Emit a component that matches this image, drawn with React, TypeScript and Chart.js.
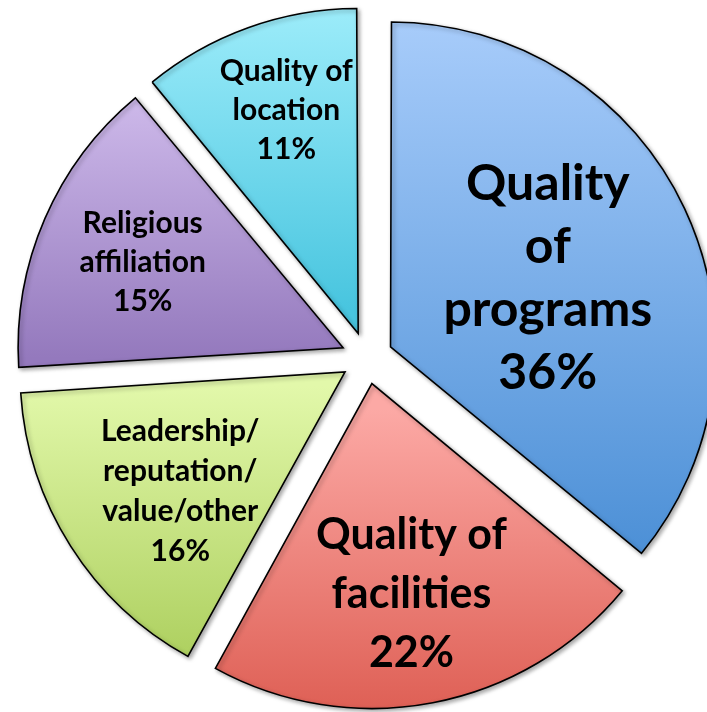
import React, { useEffect, useRef } from "react";
import { Chart, registerables } from "chart.js";

Chart.register(...registerables);

// ---- data ----
const categories = [
  "Quality of programs",
  "Quality of facilities",
  "Leadership/reputation/value/other",
  "Religious affiliation",
  "Quality of location",
];
const percentValues = [36, 22, 16, 15, 11];
const labelLines = [
  ["Quality", "of", "programs", "36%"],
  ["Quality of", "facilities", "22%"],
  ["Leadership/", "reputation/", "value/other", "16%"],
  ["Religious", "affiliation", "15%"],
  ["Quality of", "location", "11%"],
];
const gradientTop = ["#a9cdfb", "#fca9a5", "#e2f8aa", "#d0bcec", "#a3effc"];
const gradientBottom = ["#4e91d7", "#dc5a4f", "#abce5c", "#9479bd", "#48c5df"];

// ---- styling / layout ----
const RADIUS = 325;
const OFFSET = 104; // chart.js divides by 4 -> 26px explosion
const labelFontSize = [50, 43, 30, 30, 30];
const labelLineHeight = [63, 59, 40, 39, 39];
const labelRadiusFrac = [0.535, 0.65, 0.615, 0.672, 0.726];
const labelNudgeX = [0, 0, 4, 0, 8];
const labelNudgeY = [5, 3, 12, 1, -1];
const FONT = "Lato, 'Open Sans', sans-serif";

function sliceAngles(i: number) {
  const total = percentValues.reduce((a, b) => a + b, 0);
  let before = 0;
  for (let k = 0; k < i; k++) before += percentValues[k];
  const s = -Math.PI / 2 + (before / total) * Math.PI * 2;
  const e = s + (percentValues[i] / total) * Math.PI * 2;
  return { s, e };
}

function gradientFor(context: any) {
  const chart = context.chart;
  const i = context.dataIndex;
  const area = chart.chartArea;
  if (!area || i === undefined) return gradientBottom[i ?? 0];
  const cy = (area.top + area.bottom) / 2;
  const { s, e } = sliceAngles(i);
  const mid = (s + e) / 2;
  const off = OFFSET / 4;
  const ay = cy + Math.sin(mid) * off;
  const ys = [ay, ay + RADIUS * Math.sin(s), ay + RADIUS * Math.sin(e)];
  for (const a of [-Math.PI / 2, Math.PI / 2, (3 * Math.PI) / 2]) {
    if (a >= s && a <= e) ys.push(ay + RADIUS * Math.sin(a));
  }
  const minY = Math.min(...ys);
  const maxY = Math.max(...ys);
  const g = chart.ctx.createLinearGradient(0, minY, 0, maxY);
  g.addColorStop(0, gradientTop[i]);
  g.addColorStop(1, gradientBottom[i]);
  return g;
}

const radiusFixPlugin = {
  id: "radiusFix",
  afterDatasetUpdate(chart: any, args: any) {
    const meta = args.meta;
    meta.data.forEach((arc: any) => {
      const circ = arc.circumference;
      const off = OFFSET / 4;
      const fix = 1 - Math.sin(Math.min(Math.PI, circ || 0));
      arc.outerRadius = RADIUS - off * fix;
    });
  },
};

const shadowAndLabelsPlugin = {
  id: "shadowLabels",
  beforeDatasetsDraw(chart: any) {
    const ctx = chart.ctx;
    ctx.save();
    ctx.shadowColor = "rgba(0,0,0,0.35)";
    ctx.shadowBlur = 4;
    ctx.shadowOffsetX = 2;
    ctx.shadowOffsetY = 2;
  },
  afterDatasetsDraw(chart: any) {
    const ctx = chart.ctx;
    ctx.restore();
    const meta = chart.getDatasetMeta(0);
    ctx.save();
    ctx.fillStyle = "#000";
    ctx.textAlign = "center";
    ctx.textBaseline = "middle";
    meta.data.forEach((arc: any, i: number) => {
      const mid = (arc.startAngle + arc.endAngle) / 2;
      const off = OFFSET / 4;
      const ax = arc.x + Math.cos(mid) * off;
      const ay = arc.y + Math.sin(mid) * off;
      const r = RADIUS * labelRadiusFrac[i];
      const lx = ax + Math.cos(mid) * r + labelNudgeX[i];
      const ly = ay + Math.sin(mid) * r + labelNudgeY[i];
      const lines = labelLines[i];
      const lh = labelLineHeight[i];
      ctx.font = `bold ${labelFontSize[i]}px ${FONT}`;
      const startY = ly - ((lines.length - 1) * lh) / 2;
      lines.forEach((t, k) => ctx.fillText(t, lx, startY + k * lh));
    });
    ctx.restore();
  },
};

export default function App() {
  const canvasRef = useRef<HTMLCanvasElement | null>(null);

  useEffect(() => {
    if (!canvasRef.current) return;
    const chart = new Chart(canvasRef.current, {
      type: "pie",
      data: {
        labels: categories,
        datasets: [
          {
            data: percentValues,
            backgroundColor: gradientFor,
            borderColor: "#000",
            borderWidth: 1.6,
            borderJoinStyle: "miter",
            offset: OFFSET,
            radius: RADIUS,
          } as any,
        ],
      },
      options: {
        responsive: false,
        animation: false,
        events: [],
        layout: { padding: { left: 27, top: 4, right: 0, bottom: 0 } },
        plugins: {
          legend: { display: false },
          tooltip: { enabled: false },
        },
      },
      plugins: [radiusFixPlugin, shadowAndLabelsPlugin],
    });
    return () => chart.destroy();
  }, []);

  return (
    <div
      style={{
        position: "absolute",
        left: 0,
        top: 0,
        width: 707,
        height: 712,
        background: "#fff",
      }}
    >
      <canvas ref={canvasRef} width={707} height={712} style={{ display: "block" }} />
    </div>
  );
}
